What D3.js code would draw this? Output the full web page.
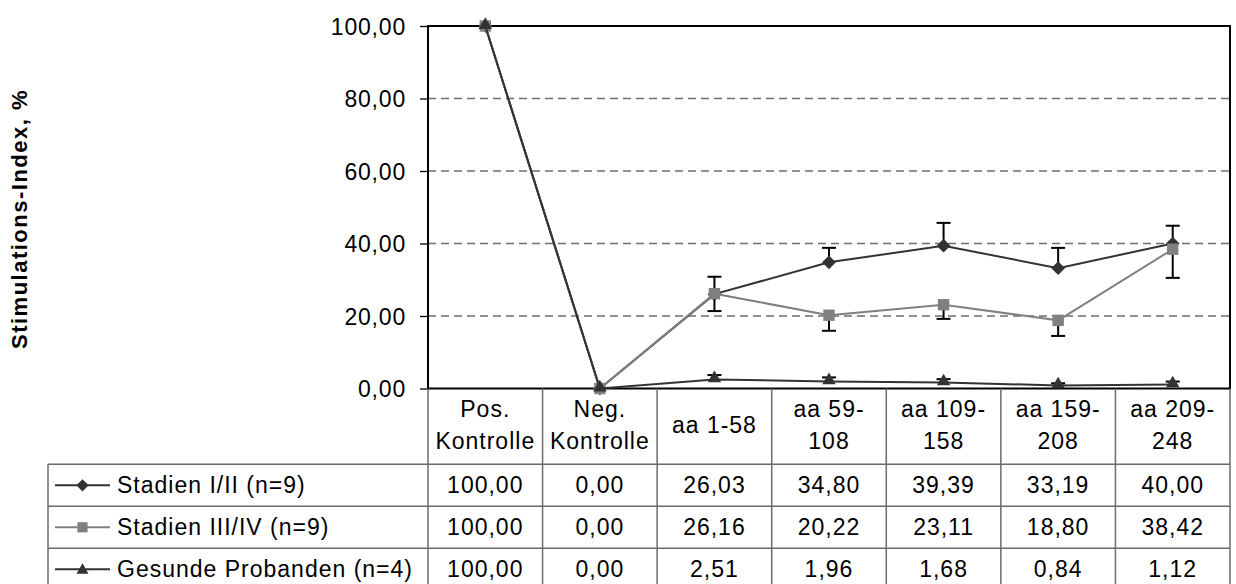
<!DOCTYPE html>
<html>
<head>
<meta charset="utf-8">
<script src="https://cdn.jsdelivr.net/npm/d3@7"></script>
<style>
  html, body { margin: 0; padding: 0; background: #fff; }
  svg { display: block; }
  text { font-family: "Liberation Sans", Arial, sans-serif; fill: #000; }
</style>
</head>
<body>
<svg id="chart" width="1236" height="584"></svg>
<script>
// Category labels (two-line header cells)
const categories = [
  ["Pos.", "Kontrolle"],
  ["Neg.", "Kontrolle"],
  ["aa 1-58"],
  ["aa 59-", "108"],
  ["aa 109-", "158"],
  ["aa 159-", "208"],
  ["aa 209-", "248"]
];

const seriesNames = ["Stadien I/II (n=9)", "Stadien III/IV (n=9)", "Gesunde Probanden (n=4)"];

// Stimulation index per group, %
const stadienI_II   = [100.00, 0.00, 26.03, 34.80, 39.39, 33.19, 40.00];
const stadienIII_IV = [100.00, 0.00, 26.16, 20.22, 23.11, 18.80, 38.42];
const gesunde       = [100.00, 0.00, 2.51, 1.96, 1.68, 0.84, 1.12];

// Error bar lengths (I/II and healthy upward, III/IV downward)
const errI_II   = [0, 0, 4.8, 4.0, 6.3, 5.6, 4.9];
const errIII_IV = [0, 0, 4.8, 4.3, 3.9, 4.3, 7.9];
const errGes    = [0, 0, 1.2, 1.1, 0.9, 0.6, 0.8];

const yTicks = [0, 20, 40, 60, 80, 100];

const fmt = v => d3.format(".2f")(v).replace(".", ",");

const svg = d3.select("#chart");

const plot = { left: 428, right: 1230, top: 26, bottom: 388.5 };
const tableLeft = 48;
const headerBottom = 464.3;
const rowH = 42;
const FS = 23;      // table / tick font size
const LS = 1.0;     // letter spacing

const x = d3.scaleBand()
  .domain(d3.range(categories.length))
  .range([plot.left, plot.right])
  .padding(0);
const cx = i => x(i) + x.bandwidth() / 2;

const y = d3.scaleLinear().domain([0, 100]).range([plot.bottom, plot.top]);

const series = [
  { name: seriesNames[0], values: stadienI_II, err: errI_II, dir: 1, color: "#333333", marker: "diamond" },
  { name: seriesNames[1], values: stadienIII_IV, err: errIII_IV, dir: -1, color: "#808080", marker: "square" },
  { name: seriesNames[2], values: gesunde, err: errGes, dir: 1, color: "#333333", marker: "triangle" }
];

// Horizontal dashed gridlines
svg.append("g")
  .selectAll("line")
  .data(yTicks.filter(t => t > 0 && t < 100))
  .join("line")
  .attr("x1", plot.left).attr("x2", plot.right)
  .attr("y1", d => y(d)).attr("y2", d => y(d))
  .attr("stroke", "#6e6e6e")
  .attr("stroke-width", 1.3)
  .attr("stroke-dasharray", "8,5");

// Y axis with outside ticks
const yAxis = d3.axisLeft(y)
  .tickValues(yTicks)
  .tickFormat(fmt)
  .tickSize(8)
  .tickPadding(14);
const gy = svg.append("g")
  .attr("transform", `translate(${plot.left},0)`)
  .call(yAxis);
gy.select(".domain").remove();
gy.selectAll(".tick line").attr("stroke", "#000").attr("stroke-width", 1.3);
gy.selectAll(".tick text")
  .attr("font-size", FS)
  .attr("letter-spacing", 0.8)
  .attr("dy", "0.36em");

// Plot frame
svg.append("rect")
  .attr("x", plot.left).attr("y", plot.top)
  .attr("width", plot.right - plot.left)
  .attr("height", plot.bottom - plot.top)
  .attr("fill", "none")
  .attr("stroke", "#000")
  .attr("stroke-width", 2);

// Y axis title
svg.append("text")
  .attr("transform", `translate(27,219) rotate(-90)`)
  .attr("text-anchor", "middle")
  .attr("font-size", 22)
  .attr("font-weight", "bold")
  .attr("letter-spacing", 1.5)
  .text("Stimulations-Index, %");

// ---- Data table ----
const table = svg.append("g");
const tableBottom = headerBottom + rowH * series.length;
const gridColor = "#6b6b6b";

// vertical lines for category columns
table.selectAll("line.col")
  .data(d3.range(categories.length + 1))
  .join("line")
  .attr("class", "col")
  .attr("x1", i => i < categories.length ? x(i) : plot.right)
  .attr("x2", i => i < categories.length ? x(i) : plot.right)
  .attr("y1", plot.bottom)
  .attr("y2", tableBottom)
  .attr("stroke", gridColor)
  .attr("stroke-width", 1.5);

// legend column left border
table.append("line")
  .attr("x1", tableLeft).attr("x2", tableLeft)
  .attr("y1", headerBottom).attr("y2", tableBottom)
  .attr("stroke", gridColor).attr("stroke-width", 1.5);

// row lines
table.selectAll("line.row")
  .data(d3.range(series.length + 1))
  .join("line")
  .attr("class", "row")
  .attr("x1", tableLeft).attr("x2", plot.right)
  .attr("y1", i => headerBottom + i * rowH)
  .attr("y2", i => headerBottom + i * rowH)
  .attr("stroke", gridColor)
  .attr("stroke-width", 1.5);

// header labels
categories.forEach((lines, i) => {
  const t = table.append("text")
    .attr("x", cx(i))
    .attr("text-anchor", "middle")
    .attr("font-size", FS)
    .attr("letter-spacing", LS);
  const base = lines.length === 1 ? 433 : 417;
  lines.forEach((ln, k) => {
    t.append("tspan").attr("x", cx(i)).attr("y", base + k * 31.5).text(ln);
  });
});

// marker path generator
function markerPath(type, scale = 1) {
  if (type === "diamond") return d3.symbol(d3.symbolDiamond2, 120 * scale)();
  if (type === "square") return d3.symbol(d3.symbolSquare2, 165 * scale)();
  return d3.symbol(d3.symbolTriangle2, 130 * scale)();
}

// value rows and legend keys
series.forEach((s, r) => {
  const rowMid = headerBottom + r * rowH + rowH / 2;
  table.selectAll(null)
    .data(s.values)
    .join("text")
    .attr("x", (d, i) => cx(i))
    .attr("y", rowMid + 8)
    .attr("text-anchor", "middle")
    .attr("font-size", FS)
    .attr("letter-spacing", LS)
    .text(d => fmt(d));

  const key = table.append("g").attr("transform", `translate(0,${rowMid})`);
  key.append("line")
    .attr("x1", 55).attr("x2", 110)
    .attr("y1", 0).attr("y2", 0)
    .attr("stroke", s.color).attr("stroke-width", 2);
  key.append("path")
    .attr("d", markerPath(s.marker, 0.8))
    .attr("transform", `translate(82.5,${s.marker === "triangle" ? 1 : 0})`)
    .attr("fill", s.color);
  key.append("text")
    .attr("x", 117)
    .attr("y", 8)
    .attr("font-size", FS)
    .attr("letter-spacing", LS)
    .text(s.name);
});

// ---- Series ----
const line = d3.line().x((d, i) => cx(i)).y(d => y(d));

series.forEach(s => {
  const g = svg.append("g");
  g.append("path")
    .datum(s.values)
    .attr("d", line)
    .attr("fill", "none")
    .attr("stroke", s.color)
    .attr("stroke-width", 2);

  // error bars
  const eb = g.selectAll("g.err")
    .data(s.values.map((v, i) => ({ v, e: s.err[i], i })).filter(d => d.e > 0))
    .join("g");
  eb.append("line")
    .attr("x1", d => cx(d.i)).attr("x2", d => cx(d.i))
    .attr("y1", d => y(d.v)).attr("y2", d => y(d.v + s.dir * d.e))
    .attr("stroke", "#000").attr("stroke-width", 2);
  eb.append("line")
    .attr("x1", d => cx(d.i) - 7).attr("x2", d => cx(d.i) + 7)
    .attr("y1", d => y(d.v + s.dir * d.e)).attr("y2", d => y(d.v + s.dir * d.e))
    .attr("stroke", "#000").attr("stroke-width", 2);

  g.selectAll("path.mk")
    .data(s.values)
    .join("path")
    .attr("class", "mk")
    .attr("d", markerPath(s.marker))
    .attr("transform", (d, i) => `translate(${cx(i)},${y(d) + (s.marker === "triangle" ? -1 : 0)})`)
    .attr("fill", s.color);
});
</script>
</body>
</html>
